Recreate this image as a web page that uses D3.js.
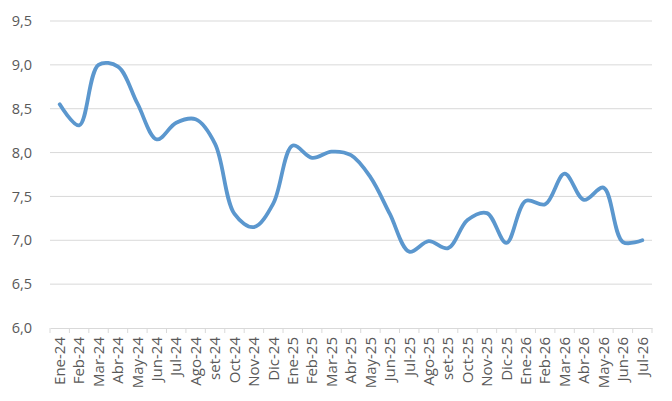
<!DOCTYPE html>
<html>
<head>
<meta charset="utf-8">
<script src="https://d3js.org/d3.v7.min.js"></script>
<style>
  body { margin: 0; background: #fff; }
  .tick text { fill: #595959; font-family: "Open Sans", "Liberation Sans", sans-serif; }
</style>
</head>
<body>
<div id="chart"></div>
<script>
// month labels
var months = ["Ene-24", "Feb-24", "Mar-24", "Abr-24", "May-24", "Jun-24", "Jul-24", "Ago-24", "set-24",
  "Oct-24", "Nov-24", "Dic-24", "Ene-25", "Feb-25", "Mar-25", "Abr-25", "May-25", "Jun-25", "Jul-25",
  "Ago-25", "set-25", "Oct-25", "Nov-25", "Dic-25", "Ene-26", "Feb-26", "Mar-26", "Abr-26", "May-26",
  "Jun-26", "Jul-26"];

// values
var values = [8.55, 8.31, 9.0, 8.98, 8.56, 8.15, 8.34, 8.38, 8.1,
  7.3, 7.15, 7.42, 8.08, 7.94, 8.01, 7.97, 7.72, 7.3, 6.87,
  6.99, 6.91, 7.23, 7.31, 6.97, 7.45, 7.41, 7.76, 7.46, 7.6,
  6.98, 7.0];

var yTicks = [6.0, 6.5, 7.0, 7.5, 8.0, 8.5, 9.0, 9.5];

var width = 672, height = 401;
var margin = { top: 21, right: 20, bottom: 73, left: 50 };

var svg = d3.select("#chart").append("svg")
  .attr("width", width)
  .attr("height", height);

var x = d3.scaleBand()
  .domain(months)
  .range([margin.left, width - margin.right]);

var y = d3.scaleLinear()
  .domain([6, 9.5])
  .range([height - margin.bottom, margin.top]);

// gridlines
svg.append("g")
  .selectAll("line")
  .data(yTicks.slice(1))
  .enter()
  .append("line")
  .attr("x1", margin.left)
  .attr("x2", width - margin.right)
  .attr("y1", function(d) { return y(d); })
  .attr("y2", function(d) { return y(d); })
  .attr("stroke", "#d9d9d9")
  .attr("stroke-width", 1);

// y axis labels
var yAxis = svg.append("g")
  .attr("transform", "translate(" + (margin.left - 15) + ",0)")
  .call(d3.axisLeft(y).tickValues(yTicks).tickSize(0)
    .tickFormat(function(d) { return d3.format(".1f")(d).replace(".", ","); }));
yAxis.select(".domain").remove();
yAxis.selectAll("text").attr("font-size", "14.5px").attr("dx", 0);

// x axis
var xAxis = svg.append("g")
  .attr("transform", "translate(0," + (height - margin.bottom) + ")")
  .call(d3.axisBottom(x).tickSize(0));
xAxis.select(".domain").attr("stroke", "#d9d9d9");

// boundary ticks between categories
xAxis.selectAll(".bound")
  .data(months.concat(["_end"]))
  .enter()
  .append("line")
  .attr("class", "bound")
  .attr("x1", function(d, i) { return margin.left + i * x.step(); })
  .attr("x2", function(d, i) { return margin.left + i * x.step(); })
  .attr("y1", 0)
  .attr("y2", 5)
  .attr("stroke", "#d9d9d9");

xAxis.selectAll(".tick text")
  .attr("font-size", "15px")
  .attr("transform", "rotate(-90)")
  .attr("text-anchor", "end")
  .attr("x", -9)
  .attr("y", 0)
  .attr("dy", "0.35em");

// smoothed line
var line = d3.line()
  .x(function(d, i) { return x(months[i]) + x.bandwidth() / 2; })
  .y(function(d) { return y(d); })
  .curve(d3.curveCatmullRom.alpha(0.5));

svg.append("path")
  .datum(values)
  .attr("d", line)
  .attr("fill", "none")
  .attr("stroke", "#5b97ce")
  .attr("stroke-width", 3.8)
  .attr("stroke-linecap", "round")
  .attr("stroke-linejoin", "round");
</script>
</body>
</html>
